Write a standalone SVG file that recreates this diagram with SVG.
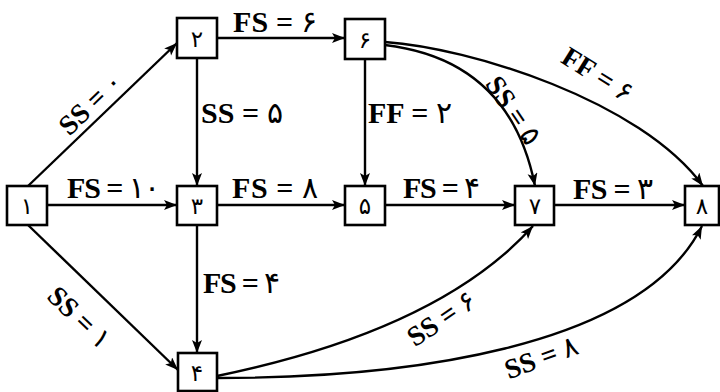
<svg xmlns="http://www.w3.org/2000/svg" width="720" height="392" viewBox="0 0 720 392">
<defs>
<style>
.box{fill:#fff;stroke:#000;stroke-width:2.6}
.num{font-family:"Liberation Serif","DejaVu Sans",serif;font-size:23px;font-weight:normal;text-anchor:middle;fill:#000}
.lbl{font-family:"Liberation Serif","DejaVu Sans",serif;font-size:30px;font-weight:bold;fill:#000}
.rl{font-family:"Liberation Serif","DejaVu Sans",serif;font-size:28px;font-weight:bold;fill:#000;text-anchor:middle}
.d{font-weight:normal}
.e{fill:none;stroke:#000;stroke-width:2.4;marker-end:url(#ah)}
</style>
<marker id="ah" markerWidth="14" markerHeight="11" refX="13" refY="5" orient="auto" markerUnits="userSpaceOnUse">
<path d="M0,0 L13,5 L0,10 L3,5 Z" fill="#000"/>
</marker>
</defs>
<rect width="720" height="392" fill="#fff"/>
<g id="connectors">
<path class="e" d="M28,186 L177,43"/>
<path class="e" d="M47,205 L177,205"/>
<path class="e" d="M28,225 L178,370"/>
<path class="e" d="M217,38 L345,38"/>
<path class="e" d="M197,58 L197,186"/>
<path class="e" d="M217,205 L345,205"/>
<path class="e" d="M197,225 L197,353"/>
<path class="e" d="M365,59 L365,186"/>
<path class="e" d="M385,205 L515,205"/>
<path class="e" d="M554,205 L685,205"/>
<path class="e" d="M385,45 Q510,60 535,186"/>
<path class="e" d="M385,42 C470,48 640,100 703,186"/>
<path class="e" d="M217,376 Q440,330 533,226"/>
<path class="e" d="M217,378 C400,378 640,350 702,226"/>
<g id="labels">
<text class="lbl" x="233" y="32" textLength="84" lengthAdjust="spacing">FS = <tspan class="d">۶</tspan></text>
<text class="lbl" x="201" y="123" textLength="82" lengthAdjust="spacing">SS = <tspan class="d">۵</tspan></text>
<text class="lbl" x="368" y="123" textLength="84" lengthAdjust="spacing">FF = <tspan class="d">۲</tspan></text>
<text class="lbl" x="67" y="198" textLength="93" lengthAdjust="spacing">FS = <tspan class="d">۱۰</tspan></text>
<text class="lbl" x="232" y="198" textLength="86" lengthAdjust="spacing">FS = <tspan class="d">۸</tspan></text>
<text class="lbl" x="403" y="198" textLength="77" lengthAdjust="spacing">FS = <tspan class="d">۴</tspan></text>
<text class="lbl" x="573" y="199" textLength="80" lengthAdjust="spacing">FS = <tspan class="d">۳</tspan></text>
<text class="lbl" x="203" y="293" textLength="77" lengthAdjust="spacing">FS = <tspan class="d">۴</tspan></text>
<text class="rl" transform="translate(90,103) rotate(-44)" y="10">SS = <tspan class="d">۰</tspan></text>
<text class="rl" transform="translate(80,317) rotate(44)" y="10">SS = <tspan class="d">۱</tspan></text>
<text class="rl" transform="translate(514,110) rotate(56)" y="10">SS = <tspan class="d">۵</tspan></text>
<text class="rl" transform="translate(598,74) rotate(32)" y="10">FF = <tspan class="d">۶</tspan></text>
<text class="rl" transform="translate(441,318) rotate(-34)" y="10">SS = <tspan class="d">۶</tspan></text>
<text class="rl" transform="translate(541,357) rotate(-20)" y="10">SS = <tspan class="d">۸</tspan></text>
</g>
</g>
<g id="n1"><rect class="box" x="7" y="186" width="40" height="39"/><text class="num" x="27" y="214">۱</text></g>
<g id="n2"><rect class="box" x="177" y="18" width="40" height="40"/><text class="num" x="197" y="47">۲</text></g>
<g id="n3"><rect class="box" x="177" y="186" width="40" height="39"/><text class="num" x="197" y="214">۳</text></g>
<g id="n4"><rect class="box" x="178" y="353" width="39" height="38"/><text class="num" x="197" y="381">۴</text></g>
<g id="n5"><rect class="box" x="345" y="186" width="40" height="39"/><text class="num" x="365" y="214">۵</text></g>
<g id="n6"><rect class="box" x="345" y="19" width="40" height="40"/><text class="num" x="365" y="48">۶</text></g>
<g id="n7"><rect class="box" x="515" y="186" width="39" height="39"/><text class="num" x="535" y="214">۷</text></g>
<g id="n8"><rect class="box" x="685" y="186" width="34" height="39"/><text class="num" x="702" y="214">۸</text></g>
</svg>
